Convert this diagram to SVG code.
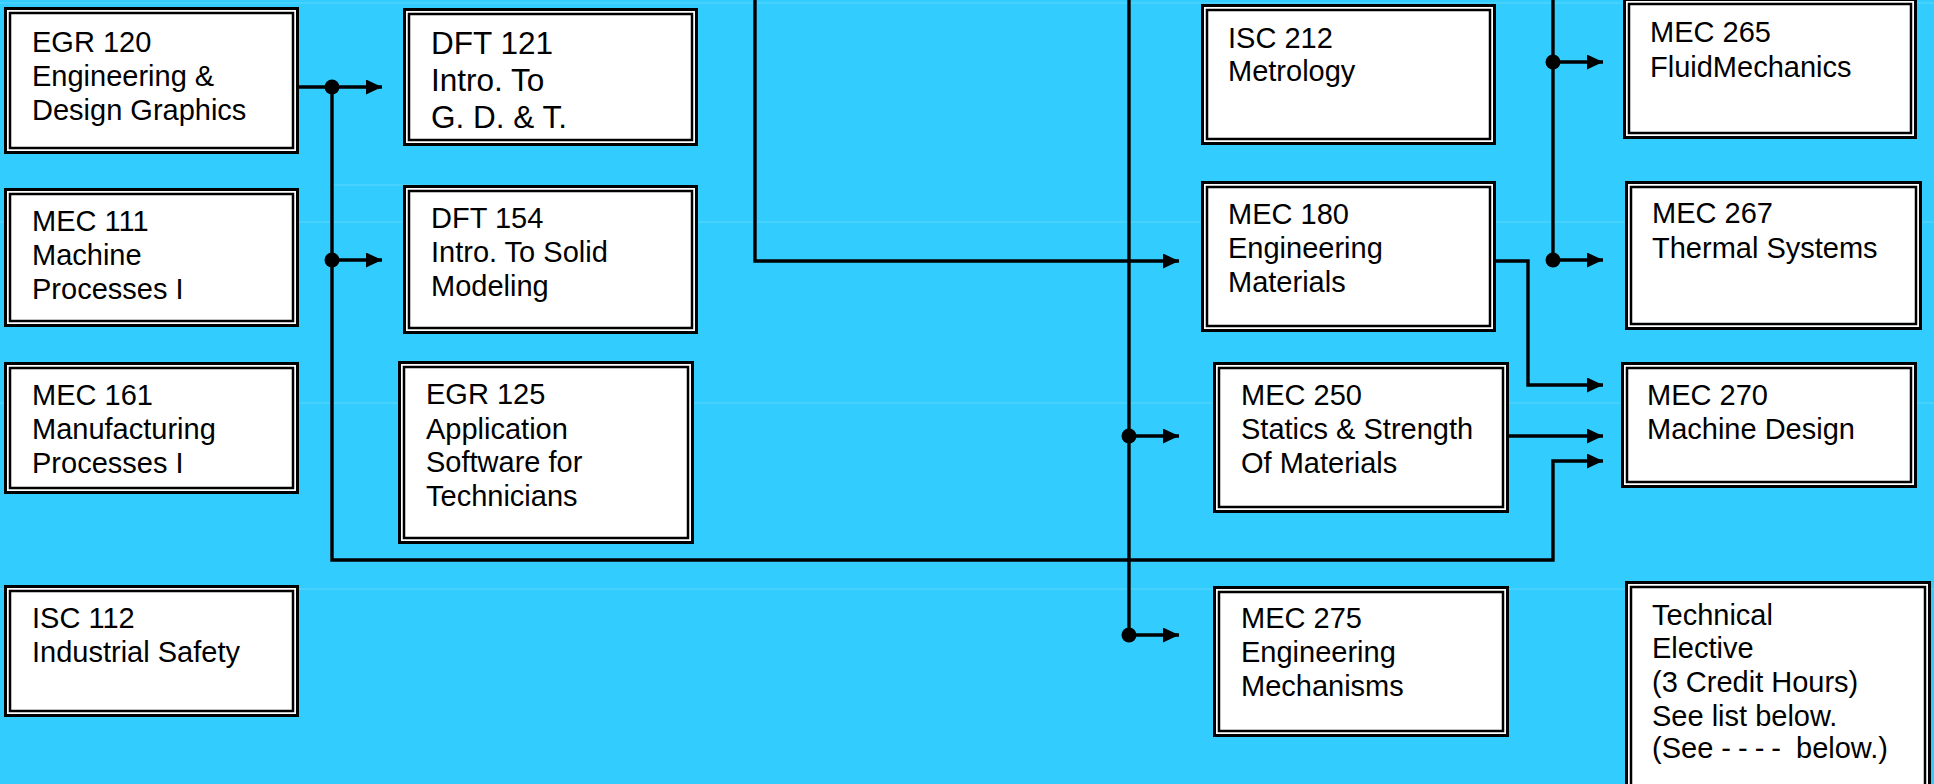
<svg xmlns="http://www.w3.org/2000/svg" width="1934" height="784" viewBox="0 0 1934 784">
<defs>
<style>
.bg{fill:#33CCFF}
.faint{stroke:#5CD6FF;stroke-width:1.2;fill:none}
.ob{fill:#FFFFFF;stroke:#000000;stroke-width:3}
.ib{fill:none;stroke:#000000;stroke-width:2.5}
.t{font-family:"Liberation Sans",Arial,sans-serif;font-size:29px;fill:#000000}
.tb{font-size:31.5px}
.c{fill:none;stroke:#000000;stroke-width:3.4}
.dot{fill:#000000}
</style>
<marker id="arr" markerUnits="userSpaceOnUse" markerWidth="16" markerHeight="15" refX="16" refY="7.5" orient="auto">
<path d="M0,0 L16,7.5 L0,15 Z" fill="#000000"/>
</marker>
</defs>
<rect class="bg" x="0" y="0" width="1934" height="784"/>
<g id="faint-lines">
<line class="faint" x1="0" y1="3" x2="1934" y2="3"/>
<line class="faint" x1="330" y1="185" x2="420" y2="185"/>
<line class="faint" x1="0" y1="222" x2="1934" y2="222"/>
<line class="faint" x1="0" y1="403" x2="1934" y2="403"/>
<line class="faint" x1="0" y1="589" x2="1934" y2="589"/>
</g>
<g id="connectors">
<path class="c" d="M294,87 H382" marker-end="url(#arr)"/>
<path class="c" d="M332,87 V560 H1553 V461 H1603" marker-end="url(#arr)"/>
<path class="c" d="M332,260 H382" marker-end="url(#arr)"/>
<path class="c" d="M755,0 V261 H1179" marker-end="url(#arr)"/>
<path class="c" d="M1129,0 V635"/>
<path class="c" d="M1129,436 H1179" marker-end="url(#arr)"/>
<path class="c" d="M1129,635 H1179" marker-end="url(#arr)"/>
<path class="c" d="M1487,261 H1528 V385 H1603" marker-end="url(#arr)"/>
<path class="c" d="M1504,436 H1603" marker-end="url(#arr)"/>
<path class="c" d="M1553,0 V260"/>
<path class="c" d="M1553,62 H1603" marker-end="url(#arr)"/>
<path class="c" d="M1553,260 H1603" marker-end="url(#arr)"/>
<circle class="dot" cx="332" cy="87" r="7.5"/>
<circle class="dot" cx="332" cy="260" r="7.5"/>
<circle class="dot" cx="1129" cy="436" r="7.5"/>
<circle class="dot" cx="1129" cy="635" r="7.5"/>
<circle class="dot" cx="1553" cy="62" r="7.5"/>
<circle class="dot" cx="1553" cy="260" r="7.5"/>
</g>
<g id="egr120">
<rect class="ob" x="5.5" y="8.5" width="292" height="144"/>
<rect class="ib" x="10" y="13" width="283" height="135"/>
<text class="t" x="32" y="52">EGR 120</text>
<text class="t" x="32" y="86">Engineering &amp;</text>
<text class="t" x="32" y="120">Design Graphics</text>
</g>
<g id="mec111">
<rect class="ob" x="5.5" y="189.5" width="292" height="136"/>
<rect class="ib" x="10" y="194" width="283" height="127"/>
<text class="t" x="32" y="231">MEC 111</text>
<text class="t" x="32" y="265">Machine</text>
<text class="t" x="32" y="299">Processes I</text>
</g>
<g id="mec161">
<rect class="ob" x="5.5" y="363.5" width="292" height="129"/>
<rect class="ib" x="10" y="368" width="283" height="120"/>
<text class="t" x="32" y="405">MEC 161</text>
<text class="t" x="32" y="439">Manufacturing</text>
<text class="t" x="32" y="473">Processes I</text>
</g>
<g id="isc112">
<rect class="ob" x="5.5" y="586.5" width="292" height="129"/>
<rect class="ib" x="10" y="591" width="283" height="120"/>
<text class="t" x="32" y="628">ISC 112</text>
<text class="t" x="32" y="662">Industrial Safety</text>
</g>
<g id="dft121">
<rect class="ob" x="404.5" y="9.5" width="292" height="135"/>
<rect class="ib" x="409" y="14" width="283" height="126"/>
<text class="t tb" x="431" y="54">DFT 121</text>
<text class="t tb" x="431" y="91">Intro. To</text>
<text class="t tb" x="431" y="128">G. D. &amp; T.</text>
</g>
<g id="dft154">
<rect class="ob" x="404.5" y="186.5" width="292" height="146"/>
<rect class="ib" x="409" y="191" width="283" height="137"/>
<text class="t" x="431" y="228">DFT 154</text>
<text class="t" x="431" y="262">Intro. To Solid</text>
<text class="t" x="431" y="296">Modeling</text>
</g>
<g id="egr125">
<rect class="ob" x="399.5" y="362.5" width="293" height="180"/>
<rect class="ib" x="404" y="367" width="284" height="171"/>
<text class="t" x="426" y="404">EGR 125</text>
<text class="t" x="426" y="439">Application</text>
<text class="t" x="426" y="472">Software for</text>
<text class="t" x="426" y="506">Technicians</text>
</g>
<g id="isc212">
<rect class="ob" x="1202.5" y="5.5" width="292" height="138"/>
<rect class="ib" x="1207" y="10" width="283" height="129"/>
<text class="t" x="1228" y="48">ISC 212</text>
<text class="t" x="1228" y="81">Metrology</text>
</g>
<g id="mec180">
<rect class="ob" x="1202.5" y="182.5" width="292" height="148"/>
<rect class="ib" x="1207" y="187" width="283" height="139"/>
<text class="t" x="1228" y="224">MEC 180</text>
<text class="t" x="1228" y="258">Engineering</text>
<text class="t" x="1228" y="292">Materials</text>
</g>
<g id="mec250">
<rect class="ob" x="1214.5" y="363.5" width="293" height="148"/>
<rect class="ib" x="1219" y="368" width="284" height="139"/>
<text class="t" x="1241" y="405">MEC 250</text>
<text class="t" x="1241" y="439">Statics &amp; Strength</text>
<text class="t" x="1241" y="473">Of Materials</text>
</g>
<g id="mec275">
<rect class="ob" x="1214.5" y="587.5" width="293" height="148"/>
<rect class="ib" x="1219" y="592" width="284" height="139"/>
<text class="t" x="1241" y="628">MEC 275</text>
<text class="t" x="1241" y="662">Engineering</text>
<text class="t" x="1241" y="696">Mechanisms</text>
</g>
<g id="mec265">
<rect class="ob" x="1624.5" y="-0.5" width="291" height="138"/>
<rect class="ib" x="1629" y="4" width="282" height="129"/>
<text class="t" x="1650" y="42">MEC 265</text>
<text class="t" x="1650" y="77">FluidMechanics</text>
</g>
<g id="mec267">
<rect class="ob" x="1626.5" y="182.5" width="294" height="146"/>
<rect class="ib" x="1631" y="187" width="285" height="137"/>
<text class="t" x="1652" y="223">MEC 267</text>
<text class="t" x="1652" y="258">Thermal Systems</text>
</g>
<g id="mec270">
<rect class="ob" x="1622.5" y="363.5" width="293" height="123"/>
<rect class="ib" x="1627" y="368" width="284" height="114"/>
<text class="t" x="1647" y="405">MEC 270</text>
<text class="t" x="1647" y="439">Machine Design</text>
</g>
<g id="tech-elective">
<rect class="ob" x="1626.5" y="582.5" width="303" height="210"/>
<rect class="ib" x="1631" y="587" width="294" height="201"/>
<text class="t" x="1652" y="625">Technical</text>
<text class="t" x="1652" y="658">Elective</text>
<text class="t" x="1652" y="692">(3 Credit Hours)</text>
<text class="t" x="1652" y="726">See list below.</text>
<text class="t" x="1652" y="758">(See <tspan letter-spacing="7">----</tspan> below.)</text>
</g>
</svg>
